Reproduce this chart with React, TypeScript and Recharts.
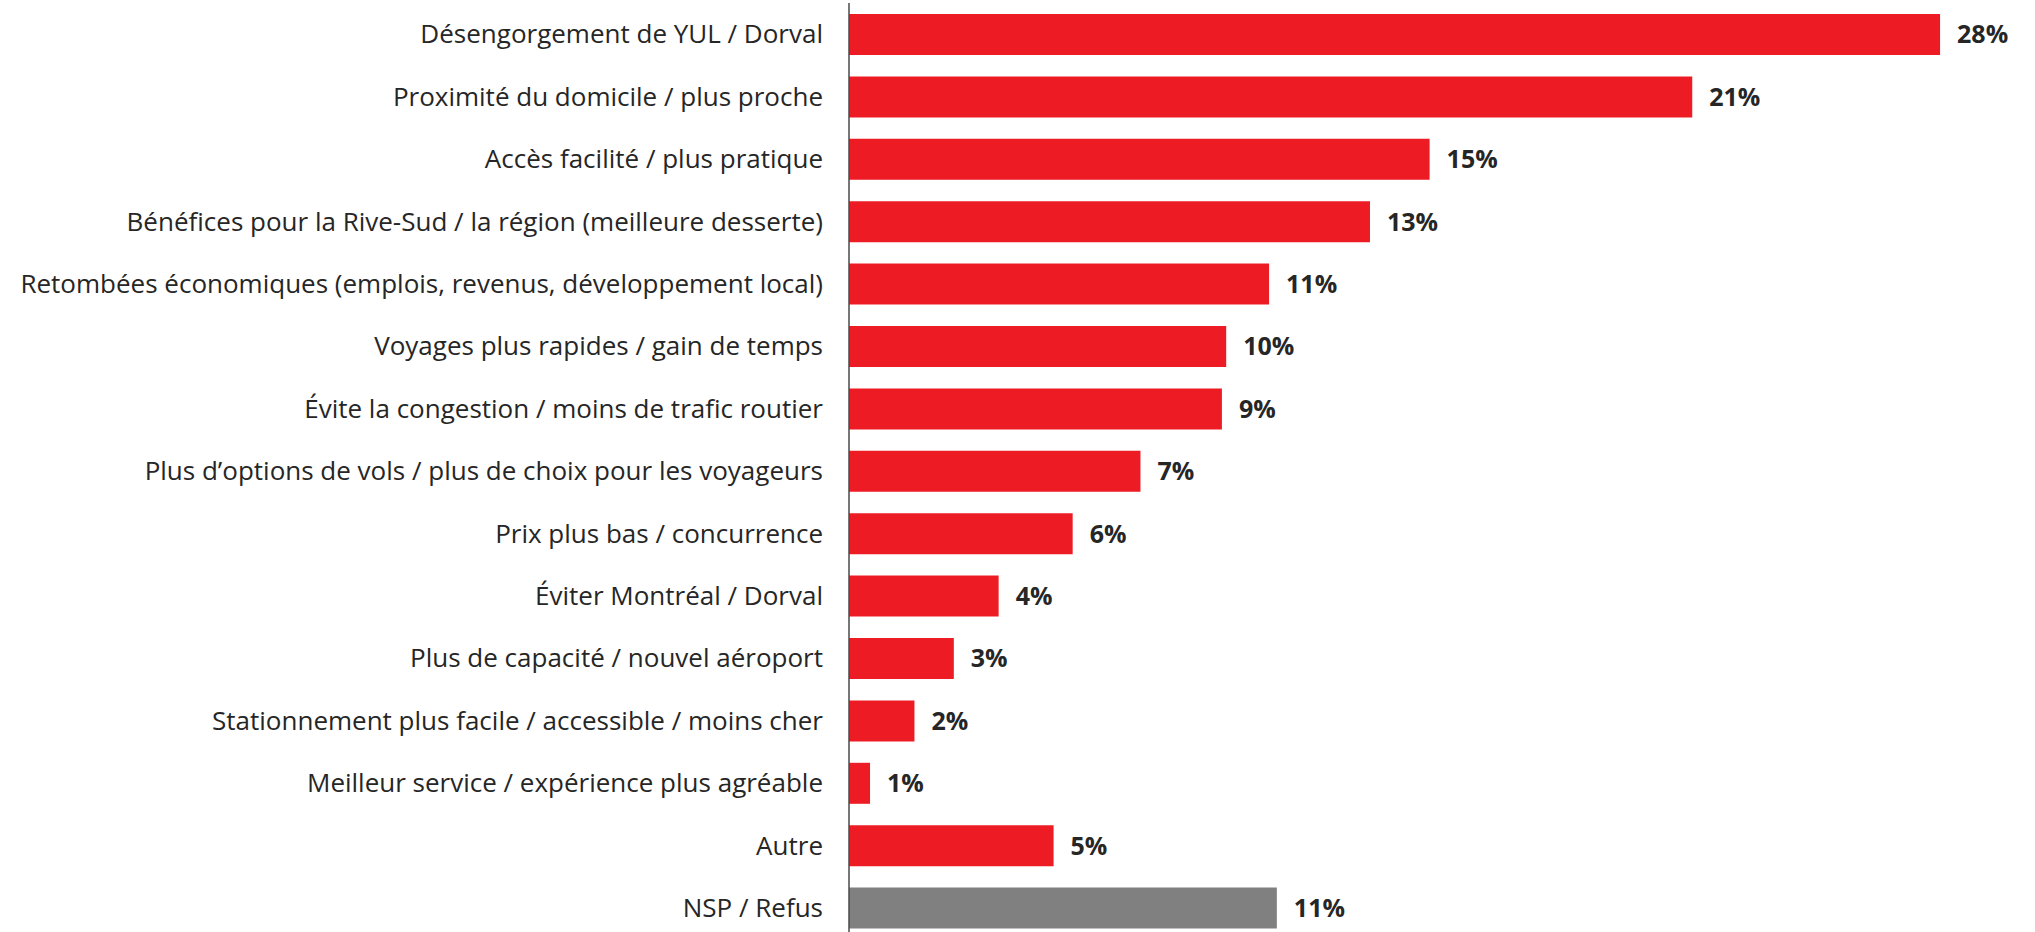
import React from 'react';
import { BarChart, Bar, XAxis, YAxis, Cell, LabelList } from 'recharts';

const categories = [
  'Désengorgement de YUL / Dorval',
  'Proximité du domicile / plus proche',
  'Accès facilité / plus pratique',
  'Bénéfices pour la Rive-Sud / la région (meilleure desserte)',
  'Retombées économiques (emplois, revenus, développement local)',
  'Voyages plus rapides / gain de temps',
  'Évite la congestion / moins de trafic routier',
  'Plus d’options de vols / plus de choix pour les voyageurs',
  'Prix plus bas / concurrence',
  'Éviter Montréal / Dorval',
  'Plus de capacité / nouvel aéroport',
  'Stationnement plus facile / accessible / moins cher',
  'Meilleur service / expérience plus agréable',
  'Autre',
  'NSP / Refus',
];

const values = [28.0, 21.64, 14.9, 13.37, 10.78, 9.68, 9.57, 7.48, 5.74, 3.84, 2.69, 1.68, 0.54, 5.25, 10.98];

const valueLabels = ['28%', '21%', '15%', '13%', '11%', '10%', '9%', '7%', '6%', '4%', '3%', '2%', '1%', '5%', '11%'];

const seriesColors = ['red', 'red', 'red', 'red', 'red', 'red', 'red', 'red', 'red', 'red', 'red', 'red', 'red', 'red', 'gray'];

const palette: Record<string, string> = { red: '#ED1C24', gray: '#808080' };

const data = categories.map((name, i) => ({
  name,
  value: values[i],
  label: valueLabels[i],
  kind: seriesColors[i],
}));

const FONT = '"Open Sans", "Liberation Sans", Arial, sans-serif';

export default function App() {
  return (
    <div
      style={{
        position: 'absolute',
        left: 0,
        top: 0,
        width: 2035,
        height: 932,
        overflow: 'hidden',
        background: '#ffffff',
      }}
    >
      <BarChart
        layout="vertical"
        width={2035}
        height={939}
        data={data}
        margin={{ top: 3, right: 17, bottom: 0, left: 0 }}
        barCategoryGap={0}
      >
        <XAxis type="number" domain={[0, 30]} hide />
        <YAxis
          type="category"
          dataKey="name"
          width={849}
          interval={0}
          tickLine={false}
          tickSize={0}
          tickMargin={26}
          axisLine={{ stroke: '#4a4a4a', strokeWidth: 1.5 }}
          tick={{ fill: '#262626', fontSize: 26, fontFamily: FONT }}
        />
        <Bar dataKey="value" barSize={41} isAnimationActive={false}>
          {data.map((d, i) => (
            <Cell key={i} fill={palette[d.kind]} />
          ))}
          <LabelList
            dataKey="label"
            position="right"
            offset={17}
            style={{ fill: '#262626', fontSize: 25, fontWeight: 700, fontFamily: FONT }}
          />
        </Bar>
      </BarChart>
    </div>
  );
}
